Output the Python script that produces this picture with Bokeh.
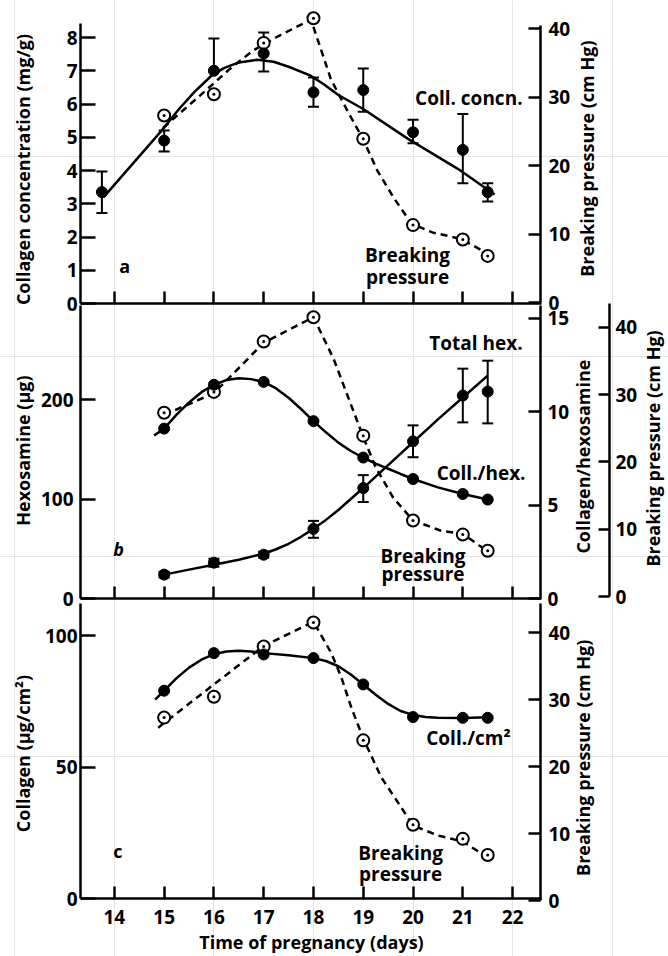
import math
from bokeh.plotting import figure
from bokeh.models import (Range1d, LinearAxis, FixedTicker, ColumnDataSource,
                          Whisker, TeeHead, Label)
from bokeh.embed import file_html
from bokeh.resources import INLINE

FONT = "Open Sans"

# ---------------- data ----------------
x_ticks = [14, 15, 16, 17, 18, 19, 20, 21, 22]
days = [15, 16, 17, 18, 19, 20, 21, 21.5]
breaking_pressure = [27.3, 30.4, 37.9, 41.5, 23.9, 11.3, 9.2, 6.8]

# panel a : collagen concentration (mg/g)
ticks_a_left = [0, 1, 2, 3, 4, 5, 6, 7, 8]
days_a = [13.75, 15, 16, 17, 18, 19, 20, 21, 21.5]
coll_conc = [3.35, 4.9, 7.0, 7.52, 6.35, 6.42, 5.15, 4.62, 3.35]
coll_conc_hi = [3.97, 5.2, 7.97, 8.15, 6.8, 7.07, 5.53, 5.7, 3.62]
coll_conc_lo = [2.72, 4.57, 7.0, 6.98, 5.92, 5.77, 4.82, 3.62, 3.07]
coll_conc_fit_x = [13.78, 14.95, 15.3, 15.6, 15.95, 16.2, 16.5, 16.87, 17.2, 17.5, 17.93, 18.2, 18.5, 19.0, 19.9, 20.9, 21.64]
coll_conc_fit_y = [3.19, 5.2, 5.85, 6.35, 6.85, 7.08, 7.25, 7.33, 7.27, 7.12, 6.86, 6.6, 6.27, 5.85, 4.95, 4.05, 3.28]
bp_fit_a_x = [14.98, 15.72, 16.32, 16.79, 17.3, 17.95, 18.35, 18.68, 19.0, 19.28, 19.61, 19.97, 20.4, 20.96, 21.46]
bp_fit_a_y = [25.5, 30.2, 34.1, 36.8, 38.9, 41.3, 32.6, 28.0, 23.8, 19.3, 15.3, 11.5, 10.2, 9.3, 7.3]

# panel b : hexosamine
ticks_b_left = [0, 100, 200]
ticks_b_ratio = [0, 5, 10, 15]
coll_hex = [9.1, 11.45, 11.6, 9.5, 7.55, 6.4, 5.6, 5.3]
coll_hex_fit_x = [14.8, 15.0, 15.25, 15.5, 15.75, 16.0, 16.25, 16.5, 16.75, 17.0, 17.25, 17.5, 17.75, 18.0,
                  18.25, 18.5, 18.75, 19.0, 19.25, 19.5, 19.75, 20.0, 20.5, 21.0, 21.5]
coll_hex_fit_y = [8.73, 9.1, 9.85, 10.5, 11.05, 11.45, 11.7, 11.8, 11.75, 11.6, 11.25, 10.75, 10.15, 9.5,
                  8.9, 8.35, 7.9, 7.55, 7.22, 6.95, 6.67, 6.4, 5.95, 5.6, 5.3]
total_hex = [24, 36, 44, 70, 111, 158, 204, 208]
total_hex_hi = [27, 40, 47, 78, 124, 174, 231, 239]
total_hex_lo = [21, 32, 41, 61, 97, 142, 177, 176]
total_hex_fit_x = [15.0, 15.5, 16.0, 16.5, 17.0, 17.25, 17.5, 17.75, 18.0, 18.25, 18.5, 18.75, 19.0, 19.5, 20.0, 20.5, 21.0, 21.5]
total_hex_fit_y = [24, 29, 34, 39, 45, 49.5, 55, 62, 70, 79, 89, 100, 111, 134, 157, 180, 202, 224]
bp_fit_b_x = [15.0, 16.0, 17.0, 18.0, 18.4, 18.8, 19.0, 19.25, 19.6, 20.0, 20.55, 21.0, 21.5]
bp_fit_b_y = [27.0, 30.2, 37.7, 41.5, 35.4, 27.6, 23.7, 19.2, 14.7, 11.3, 9.8, 9.3, 6.7]

# panel c : collagen per cm2
ticks_c_left = [0, 50, 100]
ticks_bp = [0, 10, 20, 30, 40]
coll_cm2 = [79, 93.3, 92.8, 91.4, 81.4, 69, 68.7, 68.7]
coll_cm2_fit_x = [14.82, 15.0, 15.25, 15.5, 15.75, 16.0, 16.25, 16.5, 16.75, 17.0, 17.5, 18.0, 18.25, 18.5,
                  18.75, 19.0, 19.25, 19.5, 19.75, 20.0, 20.25, 20.5, 21.0, 21.5]
coll_cm2_fit_y = [75.6, 79.0, 83.8, 87.8, 90.8, 92.9, 93.9, 94.2, 93.9, 93.3, 92.5, 91.4, 90.3, 88.3,
                  85.2, 81.4, 77.5, 74.0, 71.3, 69.8, 69.0, 68.7, 68.6, 68.9]
bp_fit_c_x = [14.88, 17.0, 18.0, 18.36, 18.56, 18.76, 19.0, 19.36, 19.7, 20.0, 20.5, 21.0, 21.5]
bp_fit_c_y = [25.8, 38.0, 41.6, 36.9, 33.3, 28.8, 24.2, 18.4, 14.6, 11.2, 9.7, 8.8, 6.4]

# ---------------- geometry ----------------
W, H = 668, 956
PX_PER_DAY = 49.78
X_LEFT = 13.32                       # day at the left axes
X_RIGHT = X_LEFT + 460 / PX_PER_DAY  # day at the right axes
X_THIRD = X_LEFT + 529 / PX_PER_DAY  # day at the extra breaking-pressure axis (panel b)
X_LTITLE = X_LEFT - 58 / PX_PER_DAY
TICK_SIZE = "19px"
TITLE_SIZE = "18px"
WEIGHT = "bold"


def scale(zero_px, px_per_unit):
    """y range whose value 0 lies zero_px from the top, px_per_unit pixels per unit."""
    return Range1d(-(H - zero_px) / px_per_unit, zero_px / px_per_unit)


p = figure(width=W, height=H,
           x_range=Range1d(X_LEFT - 80 / PX_PER_DAY, X_LEFT + (W - 80) / PX_PER_DAY),
           y_range=Range1d(0, H), x_axis_location=None, y_axis_location=None,
           output_backend="svg", toolbar_location=None,
           min_border=0, min_border_left=0, min_border_right=0,
           min_border_top=0, min_border_bottom=0)
p.outline_line_color = None
p.background_fill_color = "white"
p.border_fill_color = "white"

p.extra_y_ranges = {
    "a_l": scale(303, 33.25), "a_r": scale(302, 6.85),
    "b_l": scale(598, 0.995), "b_ch": scale(598, 18.67), "b_bp": scale(596, 6.73),
    "c_l": scale(898, 2.63), "c_r": scale(900, 6.70),
}


def style(ax, ticks, tick_in, standoff, show_labels=True):
    ax.ticker = FixedTicker(ticks=ticks)
    ax.axis_line_width = 2.5
    ax.axis_line_color = "black"
    ax.major_tick_in = tick_in
    ax.major_tick_out = 0
    ax.major_tick_line_width = 2.5
    ax.major_tick_line_color = "black"
    ax.minor_tick_line_color = None
    ax.major_label_text_font = FONT
    ax.major_label_text_font_size = TICK_SIZE
    ax.major_label_text_font_style = WEIGHT
    ax.major_label_text_color = "black" if show_labels else None
    ax.major_label_standoff = standoff


def y_axis(side, rng, loc, ticks, top, tick_in, standoff):
    ax = LinearAxis(y_range_name=rng, fixed_location=loc, bounds=(0, top))
    style(ax, ticks, tick_in, standoff)
    p.add_layout(ax, side)


def x_axis(rng, show_labels):
    ax = LinearAxis(y_range_name=rng, fixed_location=0, bounds=(X_LEFT, X_RIGHT + 0.03))
    style(ax, x_ticks, 12, 11, show_labels)
    p.add_layout(ax, "below")


def add_label(x, y, text, rng, align="left", size="19px", style_=WEIGHT,
              angle=0.0, baseline="middle"):
    p.add_layout(Label(x=x, y=y, y_range_name=rng, text=text, text_font=FONT,
                       text_font_size=size, text_align=align, text_baseline=baseline,
                       text_font_style=style_, text_color="black", angle=angle))


def v_title(x, y, text, rng):
    add_label(x, y, text, rng, align="center", size=TITLE_SIZE, angle=math.pi / 2)


def error_bars(xs, hi, lo, rng):
    src = ColumnDataSource(dict(x=xs, hi=hi, lo=lo))
    p.add_layout(Whisker(source=src, base="x", upper="hi", lower="lo", y_range_name=rng,
                         line_width=2, line_color="black",
                         upper_head=TeeHead(size=11, line_width=2, line_color="black"),
                         lower_head=TeeHead(size=11, line_width=2, line_color="black")))


def solid(xs, ys, rng):
    p.line(xs, ys, line_width=2.5, line_color="black", y_range_name=rng)


def dashed(xs, ys, rng):
    p.line(xs, ys, line_width=2.5, line_color="black", line_dash="7 5", y_range_name=rng)


def dots(xs, ys, rng):
    p.scatter(xs, ys, marker="circle", size=11, fill_color="black",
              line_color="black", y_range_name=rng)


def open_dots(xs, ys, rng):
    p.scatter(xs, ys, marker="circle_dot", size=12, fill_color="white",
              line_color="black", line_width=2, y_range_name=rng)


# ---------------- panel a ----------------
x_axis("a_l", False)
y_axis("left", "a_l", X_LEFT, ticks_a_left, 8.42, 15, 3)
y_axis("right", "a_r", X_RIGHT, ticks_bp, 40.5, 12, 8)
dashed(bp_fit_a_x, bp_fit_a_y, "a_r")
solid(coll_conc_fit_x, coll_conc_fit_y, "a_l")
error_bars(days_a, coll_conc_hi, coll_conc_lo, "a_l")
open_dots(days, breaking_pressure, "a_r")
dots(days_a, coll_conc, "a_l")
add_label(14.1, 1.14, "a", "a_l", size="18px")
add_label(22.2, 29.8, "Coll. concn.", "a_r", align="right")
add_label(19.89, 6.9, "Breaking", "a_r", align="center")
add_label(19.89, 3.65, "pressure", "a_r", align="center")
v_title(X_LTITLE, 4.03, "Collagen concentration (mg/g)", "a_l")
v_title(X_LEFT + 506 / PX_PER_DAY, 21.0, "Breaking pressure (cm Hg)", "a_r")

# ---------------- panel b ----------------
x_axis("b_l", False)
y_axis("left", "b_l", X_LEFT, ticks_b_left, 294, 15, 7)
y_axis("right", "b_ch", X_RIGHT, ticks_b_ratio, 15.7, 12, 7)
y_axis("right", "b_bp", X_THIRD, ticks_bp, 43.5, 11, 6)
dashed(bp_fit_b_x, bp_fit_b_y, "b_bp")
solid(coll_hex_fit_x, coll_hex_fit_y, "b_ch")
solid(total_hex_fit_x, total_hex_fit_y, "b_l")
error_bars(days, total_hex_hi, total_hex_lo, "b_l")
open_dots(days, breaking_pressure, "b_bp")
dots(days, coll_hex, "b_ch")
dots(days, total_hex, "b_l")
add_label(13.98, 50, "b", "b_l", size="18px", style_="bold italic")
add_label(22.2, 13.66, "Total hex.", "b_ch", align="right")
add_label(22.26, 6.7, "Coll./hex.", "b_ch", align="right")
add_label(20.2, 2.3, "Breaking", "b_ch", align="center")
add_label(20.2, 1.29, "pressure", "b_ch", align="center")
v_title(X_LTITLE, 148.7, "Hexosamine (\u03bcg)", "b_l")
v_title(X_LEFT + 502 / PX_PER_DAY, 7.6, "Collagen/hexosamine", "b_ch")
v_title(X_LEFT + 572 / PX_PER_DAY, 22.0, "Breaking pressure (cm Hg)", "b_bp")

# ---------------- panel c ----------------
x_axis("c_l", True)
y_axis("left", "c_l", X_LEFT, ticks_c_left, 112, 15, 3)
y_axis("right", "c_r", X_RIGHT, ticks_bp, 44.3, 12, 8)
dashed(bp_fit_c_x, bp_fit_c_y, "c_r")
solid(coll_cm2_fit_x, coll_cm2_fit_y, "c_l")
open_dots(days, breaking_pressure, "c_r")
dots(days, coll_cm2, "c_l")
add_label(13.98, 18.2, "c", "c_l", size="18px")
add_label(21.96, 24.3, "Coll./cm\u00b2", "c_r", align="right")
add_label(19.75, 7.1, "Breaking", "c_r", align="center")
add_label(19.75, 3.9, "pressure", "c_r", align="center")
v_title(X_LTITLE, 55.1, "Collagen (\u03bcg/cm\u00b2)", "c_l")
v_title(X_LEFT + 502 / PX_PER_DAY, 21.3, "Breaking pressure (cm Hg)", "c_r")
add_label(17.96, -16.5, "Time of pregnancy (days)", "c_l", align="center", size=TITLE_SIZE)

open("out.html", "w").write(file_html(p, INLINE, title="Collagen and breaking pressure"))
